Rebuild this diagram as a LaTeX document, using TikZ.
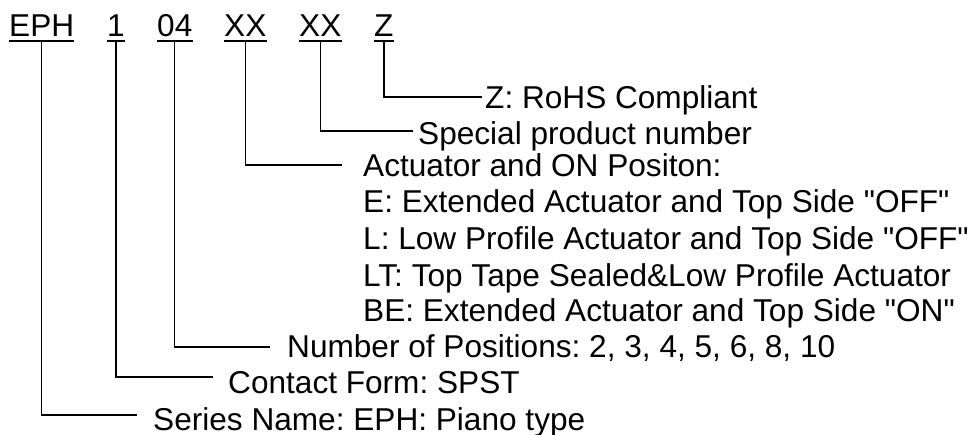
\documentclass[tikz,border=0pt]{standalone}
\usepackage{fontspec}
\setmainfont{Liberation Sans}
\usetikzlibrary{calc}
\frenchspacing
\begin{document}
\begin{tikzpicture}[x=1pt,y=-1pt,
  code/.style={anchor=base west,inner sep=0pt,font=\fontsize{31.6}{36}\selectfont},
  lbl/.style={anchor=base west,inner sep=0pt,font=\fontsize{31.6}{36}\selectfont},
  conn/.style={line width=1.3pt},
  uline/.style={line width=2.2pt}]
\useasboundingbox (0,0) rectangle (974,435);
% code parts
\node[code] (eph) at (9,37) {EPH};
\node[code] (one) at (107,37) {1};
\node[code] (pos) at (157,37) {04};
\node[code] (act) at (224,37) {XX};
\node[code] (spc) at (299,37) {XX};
\node[code] (z)   at (374,37) {Z};
\foreach \n in {eph,one,pos,act,spc,z}
  \draw[uline] ([yshift=-4pt]\n.base west) -- ([yshift=-4pt]\n.base east);
% labels
\node[lbl] (lz)   at (485,109) {Z: RoHS Compliant};
\node[lbl] (lspc) at (418,145) {Special product number};
\node[lbl] (lact) at (363,177) {Actuator and ON Positon:};
\node[lbl] (le)   at (363,213) {E: Extended Actuator and Top Side \textquotedbl OFF\textquotedbl};
\node[lbl] (ll)   at (363,250) {L: Low Profile Actuator and Top Side \textquotedbl OFF\textquotedbl};
\node[lbl] (llt)  at (363,287) {LT: Top Tape Sealed\&Low Profile Actuator};
\node[lbl] (lbe)  at (363,322) {BE: Extended Actuator and Top Side \textquotedbl ON\textquotedbl};
\node[lbl] (lpos) at (287,357) {Number of Positions: 2, 3, 4, 5, 6, 8, 10};
\node[lbl] (lone) at (228,393) {Contact Form: SPST};
\node[lbl] (leph) at (153,430) {Series Name: EPH: Piano type};
% connectors
\draw[conn] ([yshift=-5pt]z.base)   |- ($(lz.base west)+(-3,-12)$);
\draw[conn] ([yshift=-5pt]spc.base) |- ($(lspc.base west)+(-5,-14)$);
\draw[conn] ([yshift=-5pt]act.base) |- ($(lact.base west)+(-21,-12)$);
\draw[conn] ([yshift=-5pt]pos.base) |- ($(lpos.base west)+(-17,-10)$);
\draw[conn] ([yshift=-5pt]one.base) |- ($(lone.base west)+(-15,-16)$);
\draw[conn] ([yshift=-5pt]eph.base) |- ($(leph.base west)+(-16,-15)$);
\end{tikzpicture}
\end{document}
